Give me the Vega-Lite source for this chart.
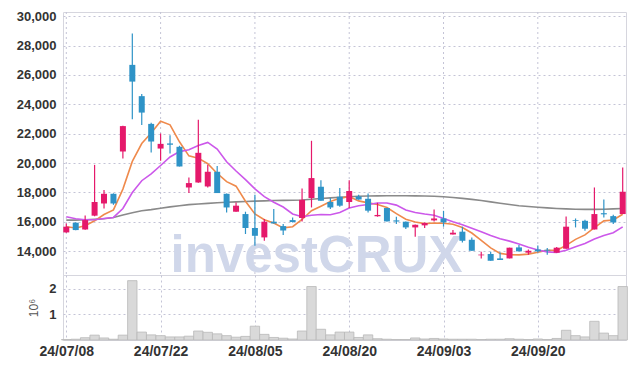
{
  "$schema": "https://vega.github.io/schema/vega-lite/v6.json",
  "autosize": {"type": "pad"},
  "padding": {"left": 15, "top": 9, "right": 9, "bottom": 5},
  "background": "white",
  "bounds": "flush",
  "config": {
    "view": {"stroke": "#d6d6de", "strokeWidth": 1},
    "concat": {"spacing": 0},
    "axis": {
      "labelFont": "Liberation Sans", "labelFontSize": 13, "labelColor": "#333333", "labelFontWeight": "bold",
      "ticks": false, "domain": false, "gridColor": "#c4c4d6", "gridDash": [2, 3], "gridWidth": 1, "labelOverlap": false
    }
  },
  "data": {"values": [
    {"d":"24/07/08","o":15280,"h":15890,"l":15250,"c":15670,"v":20000,"m5":15670,"m10":16350,"g":16120},
    {"d":"24/07/09","o":15940,"h":15980,"l":15420,"c":15440,"v":30000,"m5":15580,"m10":16210,"g":16120},
    {"d":"24/07/10","o":15480,"h":16440,"l":15460,"c":16120,"v":90000,"m5":15730,"m10":16140,"g":16140},
    {"d":"24/07/11","o":16420,"h":19880,"l":16380,"c":17350,"v":190000,"m5":16070,"m10":16140,"g":16170},
    {"d":"24/07/12","o":17250,"h":18160,"l":16910,"c":17910,"v":80000,"m5":16498,"m10":16230,"g":16210},
    {"d":"24/07/15","o":17910,"h":17940,"l":17160,"c":17250,"v":30000,"m5":16814,"m10":16300,"g":16300},
    {"d":"24/07/16","o":20790,"h":22540,"l":20310,"c":22520,"v":190000,"m5":18230,"m10":16910,"g":16460},
    {"d":"24/07/17","o":26690,"h":28820,"l":22990,"c":25550,"v":2320000,"m5":20116,"m10":18000,"g":16620},
    {"d":"24/07/18","o":24560,"h":24700,"l":22590,"c":23440,"v":310000,"m5":21334,"m10":18800,"g":16750},
    {"d":"24/07/19","o":22670,"h":22740,"l":20720,"c":21470,"v":200000,"m5":22046,"m10":19272,"g":16830},
    {"d":"24/07/22","o":20990,"h":22010,"l":20160,"c":21310,"v":170000,"m5":22858,"m10":19836,"g":16930},
    {"d":"24/07/23","o":21340,"h":21900,"l":20650,"c":21250,"v":120000,"m5":22608,"m10":20419,"g":17020},
    {"d":"24/07/24","o":21110,"h":21180,"l":19770,"c":19770,"v":120000,"m5":21452,"m10":20784,"g":17100},
    {"d":"24/07/25","o":18340,"h":19020,"l":17960,"c":18640,"v":150000,"m5":20492,"m10":20913,"g":17170},
    {"d":"24/07/26","o":18680,"h":22950,"l":18660,"c":20700,"v":350000,"m5":20338,"m10":21192,"g":17220},
    {"d":"24/07/29","o":18410,"h":19880,"l":18340,"c":19410,"v":300000,"m5":19958,"m10":21408,"g":17260},
    {"d":"24/07/30","o":19410,"h":19800,"l":17960,"c":17960,"v":240000,"m5":19296,"m10":20952,"g":17300},
    {"d":"24/07/31","o":17910,"h":17930,"l":16640,"c":16980,"v":170000,"m5":18738,"m10":20095,"g":17330},
    {"d":"24/08/01","o":16690,"h":17320,"l":16680,"c":17100,"v":110000,"m5":18430,"m10":19461,"g":17360},
    {"d":"24/08/02","o":16530,"h":16690,"l":15170,"c":15580,"v":140000,"m5":17406,"m10":18872,"g":17390},
    {"d":"24/08/05","o":15580,"h":17840,"l":14370,"c":15050,"v":540000,"m5":16534,"m10":18246,"g":17410},
    {"d":"24/08/06","o":14940,"h":16190,"l":14710,"c":16010,"v":220000,"m5":16144,"m10":17720,"g":17430},
    {"d":"24/08/07","o":16010,"h":16870,"l":15890,"c":15890,"v":100000,"m5":15926,"m10":17332,"g":17450},
    {"d":"24/08/08","o":15710,"h":15850,"l":15100,"c":15410,"v":70000,"m5":15588,"m10":17009,"g":17460},
    {"d":"24/08/09","o":16120,"h":16300,"l":15960,"c":15990,"v":40000,"m5":15670,"m10":16538,"g":17470},
    {"d":"24/08/12","o":16260,"h":18270,"l":16030,"c":17500,"v":350000,"m5":16160,"m10":16347,"g":17490},
    {"d":"24/08/13","o":17620,"h":21520,"l":16980,"c":18980,"v":2090000,"m5":16754,"m10":16449,"g":17540},
    {"d":"24/08/14","o":18390,"h":18840,"l":17440,"c":17440,"v":420000,"m5":17064,"m10":16495,"g":17590},
    {"d":"24/08/16","o":17350,"h":17620,"l":16870,"c":16980,"v":200000,"m5":17378,"m10":16483,"g":17630},
    {"d":"24/08/19","o":17710,"h":18300,"l":17030,"c":17100,"v":310000,"m5":17600,"m10":16635,"g":17670},
    {"d":"24/08/20","o":17350,"h":18840,"l":16940,"c":18100,"v":310000,"m5":17720,"m10":16940,"g":17710},
    {"d":"24/08/21","o":17730,"h":17840,"l":17500,"c":17520,"v":100000,"m5":17428,"m10":17091,"g":17740},
    {"d":"24/08/22","o":17570,"h":17930,"l":16640,"c":16760,"v":200000,"m5":17292,"m10":17178,"g":17760},
    {"d":"24/08/23","o":16380,"h":17300,"l":16350,"c":16470,"v":50000,"m5":17186,"m10":17282,"g":17770},
    {"d":"24/08/26","o":16940,"h":16960,"l":16030,"c":16030,"v":30000,"m5":16972,"m10":17286,"g":17780},
    {"d":"24/08/27","o":16100,"h":16350,"l":15850,"c":16020,"v":20000,"m5":16556,"m10":17138,"g":17780},
    {"d":"24/08/28","o":16010,"h":16020,"l":15510,"c":15620,"v":20000,"m5":16176,"m10":16802,"g":17780},
    {"d":"24/08/29","o":15620,"h":15820,"l":14990,"c":15800,"v":80000,"m5":15984,"m10":16638,"g":17770},
    {"d":"24/08/30","o":15760,"h":15950,"l":15580,"c":15920,"v":40000,"m5":15878,"m10":16532,"g":17760},
    {"d":"24/09/02","o":16100,"h":16840,"l":16030,"c":16230,"v":60000,"m5":15918,"m10":16445,"g":17740},
    {"d":"24/09/03","o":16230,"h":16750,"l":15670,"c":15960,"v":40000,"m5":15906,"m10":16231,"g":17710},
    {"d":"24/09/04","o":15140,"h":15440,"l":15140,"c":15260,"v":30000,"m5":15834,"m10":16005,"g":17660},
    {"d":"24/09/05","o":15330,"h":15670,"l":14600,"c":14710,"v":30000,"m5":15616,"m10":15800,"g":17600},
    {"d":"24/09/06","o":14780,"h":14940,"l":14030,"c":14030,"v":30000,"m5":15238,"m10":15558,"g":17530},
    {"d":"24/09/09","o":13720,"h":13970,"l":13510,"c":13770,"v":20000,"m5":14744,"m10":15331,"g":17450},
    {"d":"24/09/10","o":13810,"h":13970,"l":13350,"c":13350,"v":30000,"m5":14222,"m10":15064,"g":17360},
    {"d":"24/09/11","o":13510,"h":13920,"l":13400,"c":13400,"v":30000,"m5":13850,"m10":14842,"g":17270},
    {"d":"24/09/12","o":13510,"h":14240,"l":13510,"c":14240,"v":50000,"m5":13756,"m10":14686,"g":17180},
    {"d":"24/09/13","o":14260,"h":14420,"l":13990,"c":13990,"v":30000,"m5":13748,"m10":14493,"g":17100},
    {"d":"24/09/19","o":13900,"h":14120,"l":13760,"c":14030,"v":20000,"m5":13802,"m10":14273,"g":17040},
    {"d":"24/09/20","o":14120,"h":14390,"l":13920,"c":13990,"v":40000,"m5":13930,"m10":14076,"g":16990},
    {"d":"24/09/23","o":14100,"h":14220,"l":13760,"c":14040,"v":20000,"m5":14060,"m10":13955,"g":16950},
    {"d":"24/09/24","o":13900,"h":14290,"l":13900,"c":14240,"v":60000,"m5":14060,"m10":13908,"g":16910},
    {"d":"24/09/25","o":14170,"h":16370,"l":14170,"c":15670,"v":380000,"m5":14396,"m10":14072,"g":16880},
    {"d":"24/09/26","o":16130,"h":16230,"l":15620,"c":16070,"v":170000,"m5":14806,"m10":14304,"g":16860},
    {"d":"24/09/27","o":16070,"h":16140,"l":15390,"c":15530,"v":120000,"m5":15114,"m10":14522,"g":16850},
    {"d":"24/09/30","o":15480,"h":18340,"l":15480,"c":16530,"v":730000,"m5":15610,"m10":14835,"g":16850},
    {"d":"24/10/02","o":16590,"h":17520,"l":16300,"c":16510,"v":270000,"m5":16066,"m10":15063,"g":16860},
    {"d":"24/10/04","o":16390,"h":16480,"l":15850,"c":15960,"v":170000,"m5":16124,"m10":15260,"g":16880},
    {"d":"24/10/07","o":16530,"h":19700,"l":16530,"c":18050,"v":2090000,"m5":16518,"m10":15662,"g":16910}
  ]},
  "spacing": 0,
  "vconcat": [
    {
      "width": 563,
      "height": 263,
      "encoding": {
        "x": {
          "field": "d", "type": "ordinal", "sort": null,
          "scale": {"type": "point", "padding": 0.35},
          "axis": null
        }
      },
      "layer": [
        {
          "mark": {"type": "rule", "color": "#c4c4d6", "strokeDash": [2, 3], "strokeWidth": 1},
          "encoding": {
            "strokeOpacity": {"condition": {"test": "indexof(['24/07/08','24/07/22','24/08/05','24/08/20','24/09/03','24/09/20'], datum.d) >= 0", "value": 1}, "value": 0}
          }
        },
        {
          "mark": {"type": "text", "font": "Liberation Sans", "fontWeight": "bold", "fontSize": 51, "color": "#d0d7ea", "baseline": "alphabetic", "align": "center", "dx": 5},
          "encoding": {
            "text": {"condition": {"test": "datum.d == '24/08/13'", "value": "investCRUX"}, "value": ""},
            "y": {"datum": 12560, "type": "quantitative", "scale": {"domain": [12380, 30290], "nice": false, "zero": false},
              "axis": {"values": [14000,16000,18000,20000,22000,24000,26000,28000,30000], "format": ",d", "grid": true, "title": null, "labelPadding": 7}}
          }
        },
        {
          "mark": {"type": "line", "color": "#8a8a8a", "strokeWidth": 1.6},
          "encoding": {
            "y": {"field": "g", "type": "quantitative", "scale": {"domain": [12380, 30290], "nice": false, "zero": false},
              "axis": {"values": [14000,16000,18000,20000,22000,24000,26000,28000,30000], "format": ",d", "grid": true, "title": null, "labelPadding": 7}}
          }
        },
        {
          "mark": {"type": "line", "color": "#ef8a4c", "strokeWidth": 1.6},
          "encoding": {"y": {"field": "m5", "type": "quantitative", "axis": {"values": [14000,16000,18000,20000,22000,24000,26000,28000,30000], "format": ",d", "grid": true, "title": null, "labelPadding": 7}}}
        },
        {
          "mark": {"type": "line", "color": "#cc58ea", "strokeWidth": 1.6},
          "encoding": {"y": {"field": "m10", "type": "quantitative", "axis": {"values": [14000,16000,18000,20000,22000,24000,26000,28000,30000], "format": ",d", "grid": true, "title": null, "labelPadding": 7}}}
        },
        {
          "mark": {"type": "rule", "strokeWidth": 1.2},
          "encoding": {
            "y": {"field": "l", "type": "quantitative", "axis": {"values": [14000,16000,18000,20000,22000,24000,26000,28000,30000], "format": ",d", "grid": true, "title": null, "labelPadding": 7}},
            "y2": {"field": "h"},
            "color": {"condition": {"test": "datum.c >= datum.o", "value": "#e5196b"}, "value": "#2e93c7"}
          }
        },
        {
          "mark": {"type": "bar", "size": 6},
          "encoding": {
            "y": {"field": "o", "type": "quantitative", "axis": {"values": [14000,16000,18000,20000,22000,24000,26000,28000,30000], "format": ",d", "grid": true, "title": null, "labelPadding": 7}},
            "y2": {"field": "c"},
            "color": {"condition": {"test": "datum.c >= datum.o", "value": "#e5196b"}, "value": "#2e93c7"}
          }
        }
      ]
    },
    {
      "width": 563,
      "height": 65,
      "mark": {"type": "bar", "size": 9.4, "fill": "#d9d9d9", "stroke": "#b9b9b9", "strokeWidth": 0.8},
      "encoding": {
        "x": {
          "field": "d", "type": "ordinal", "sort": null,
          "scale": {"type": "point", "padding": 0.35},
          "axis": {"values": ["24/07/08","24/07/22","24/08/05","24/08/20","24/09/03","24/09/20"], "labelAngle": 0, "labelFontSize": 14, "labelPadding": 4, "grid": true, "title": null}
        },
        "y": {
          "field": "v", "type": "quantitative",
          "scale": {"domain": [0, 2540000], "nice": false},
          "axis": {"values": [1000000, 2000000], "labelExpr": "datum.value / 1000000", "grid": true, "labelPadding": 7,
            "title": "10⁶", "titleFont": "Liberation Sans", "titleFontSize": 12, "titleFontWeight": "normal", "titleColor": "#555555", "titlePadding": 8}
        }
      }
    }
  ]
}
